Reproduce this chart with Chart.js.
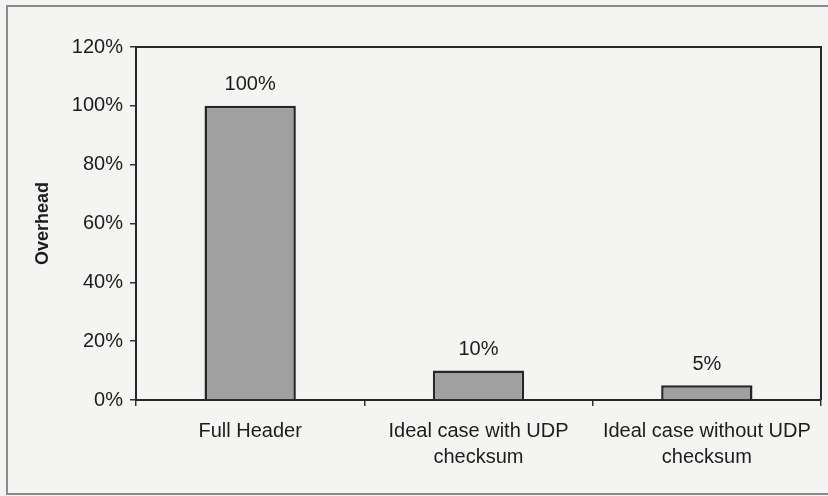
<!DOCTYPE html>
<html>
<head>
<meta charset="utf-8">
<script src="https://cdn.jsdelivr.net/npm/chart.js@4"></script>
<style>
  html, body { margin: 0; padding: 0; background: #f4f4f2; }
  #wrap { width: 828px; height: 496px; }
</style>
</head>
<body>
<div id="wrap"><canvas id="c" width="828" height="496"></canvas></div>
<script>
// Header overhead relative to the full header
const categories = [
  ['Full Header'],
  ['Ideal case with UDP', 'checksum'],
  ['Ideal case without UDP', 'checksum']
];
const overhead = [100, 10, 5];
const yTicks = [0, 20, 40, 60, 80, 100, 120];

const ink = '#1c1c1c';

// paper background, outer frame and the closed plot box
const framePlugin = {
  id: 'frame',
  beforeDraw(chart) {
    const ctx = chart.ctx;
    ctx.save();
    ctx.fillStyle = '#f4f4f2';
    ctx.fillRect(0, 0, chart.width, chart.height);
    ctx.strokeStyle = '#8a8a8a';
    ctx.lineWidth = 2;
    ctx.strokeRect(7, 6, chart.width + 20, 488);
    ctx.restore();
  },
  afterDraw(chart) {
    const {ctx, chartArea: a} = chart;
    ctx.save();
    ctx.strokeStyle = '#2a2a2a';
    ctx.lineWidth = 2;
    ctx.beginPath();
    ctx.moveTo(a.left, a.top);
    ctx.lineTo(a.right, a.top);
    ctx.lineTo(a.right, a.bottom);
    ctx.stroke();
    ctx.restore();
  }
};

// value labels above each bar
const valueLabels = {
  id: 'valueLabels',
  afterDatasetsDraw(chart) {
    const ctx = chart.ctx;
    const meta = chart.getDatasetMeta(0);
    ctx.save();
    ctx.font = '20px "Liberation Sans", Arial, sans-serif';
    ctx.fillStyle = ink;
    ctx.textAlign = 'center';
    ctx.textBaseline = 'middle';
    meta.data.forEach((bar, i) => {
      ctx.fillText(overhead[i] + '%', bar.x, bar.y - 21);
    });
    ctx.restore();
  }
};

new Chart(document.getElementById('c'), {
  type: 'bar',
  data: {
    labels: categories,
    datasets: [{
      data: overhead,
      backgroundColor: '#a0a0a0',
      borderColor: '#262626',
      borderWidth: 2.5,
      categoryPercentage: 1,
      barPercentage: 0.4
    }]
  },
  options: {
    responsive: false,
    animation: false,
    devicePixelRatio: 1,
    layout: { padding: { top: 47, right: 7, bottom: 0, left: 0 } },
    plugins: {
      legend: { display: false },
      tooltip: { enabled: false }
    },
    scales: {
      x: {
        grid: {
          offset: true,
          drawOnChartArea: false,
          drawTicks: true,
          tickLength: 6,
          color: '#333',
          lineWidth: 1.5
        },
        border: { color: '#262626', width: 2 },
        ticks: {
          color: ink,
          padding: 12,
          maxRotation: 0,
          autoSkip: false,
          font: { family: '"Liberation Sans", Arial, sans-serif', size: 20, lineHeight: 1.3 }
        },
        afterFit(scale) { scale.height = 96; }
      },
      y: {
        min: 0,
        max: 120,
        afterBuildTicks(scale) { scale.ticks = yTicks.map(v => ({ value: v })); },
        grid: {
          drawOnChartArea: false,
          drawTicks: true,
          tickLength: 6,
          color: '#333',
          lineWidth: 1.5
        },
        border: { color: '#262626', width: 2 },
        ticks: {
          color: ink,
          padding: 7,
          callback: v => v + '%',
          font: { family: '"Liberation Sans", Arial, sans-serif', size: 20 }
        },
        title: {
          display: true,
          text: 'Overhead',
          color: ink,
          padding: { top: 32, bottom: 0 },
          font: { family: '"Liberation Sans", Arial, sans-serif', size: 18, weight: 'bold' }
        },
        afterFit(scale) { scale.width = 136; }
      }
    }
  },
  plugins: [framePlugin, valueLabels]
});
</script>
</body>
</html>
